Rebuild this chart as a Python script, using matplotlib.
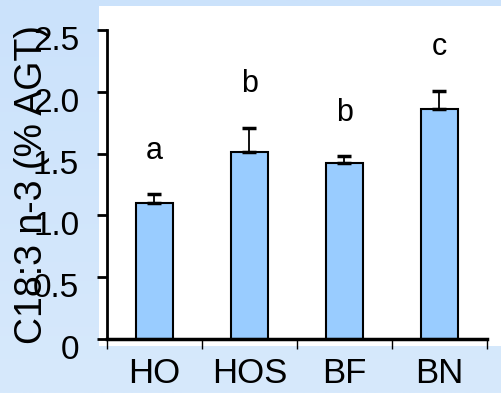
import numpy as np
import matplotlib
matplotlib.use("Agg")
import matplotlib.pyplot as plt
import matplotlib.transforms as mtransforms
from matplotlib.patches import Rectangle

plt.rcParams['font.family'] = ['Liberation Sans', 'DejaVu Sans']

# data
groups = ['HO', 'HOS', 'BF', 'BN']
means = [1.10, 1.51, 1.42, 1.86]
errors = [0.07, 0.20, 0.06, 0.15]
letters = ['a', 'b', 'b', 'c']
yticks = [0, 0.5, 1.0, 1.5, 2.0, 2.5]
ytick_labels = ['0', '0.5', '1.0', '1.5', '2.0', '2.5']

fig = plt.figure(figsize=(5.02, 3.93), dpi=100)
fig.patch.set_facecolor('#d0e5fc')

# soft vertical gradient behind everything
bg = fig.add_axes([0, 0, 1, 1], zorder=-10)
grad = np.linspace(0, 1, 256).reshape(-1, 1)
cmap = matplotlib.colors.LinearSegmentedColormap.from_list('bg', ['#cbe2fb', '#d7e9fc'])
bg.imshow(grad, aspect='auto', cmap=cmap, extent=[0, 1, 0, 1], origin='upper')
bg.axis('off')

# white panel
fig.patches.append(Rectangle((99 / 502, 1 - 346 / 393), 1 - 99 / 502, (346 - 6) / 393,
                             transform=fig.transFigure, facecolor='white',
                             edgecolor='none', zorder=-5))

ax = fig.add_axes([107 / 502, 1 - 339 / 393, 380 / 502, 309 / 393])
ax.patch.set_alpha(0)

x = np.arange(len(groups))
ax.bar(x, means, width=0.39, color='#99ccff', edgecolor='black', linewidth=1.5, zorder=2)
ax.errorbar(x, means, yerr=[np.zeros(len(errors)), errors], fmt='none',
            ecolor='black', elinewidth=1.3, capsize=5, capthick=2.5, zorder=3)

for xi, m, e, lab in zip(x, means, errors, letters):
    ax.text(xi, m + e + 0.35, lab, ha='center', va='center', fontsize=22)

ax.set_xlim(-0.5, len(groups) - 0.5)
ax.set_ylim(0, 2.5)

ax.set_yticks(yticks)
ax.set_yticklabels(ytick_labels, fontsize=24)
ax.tick_params(axis='y', direction='out', length=7, width=2, pad=13)
offset = mtransforms.ScaledTranslation(0, -8 / 100, fig.dpi_scale_trans)
for lab in ax.get_yticklabels():
    lab.set_transform(lab.get_transform() + offset)

ax.set_xticks(x)
ax.set_xticklabels(groups, fontsize=25)
ax.set_xticks(np.arange(len(groups) + 1) - 0.5, minor=True)
ax.tick_params(axis='x', which='major', length=0, pad=13)
ax.tick_params(axis='x', which='minor', direction='out', length=7, width=1)

for side in ['top', 'right']:
    ax.spines[side].set_visible(False)
ax.spines['left'].set_linewidth(2)
ax.spines['bottom'].set_linewidth(2.5)

ax.set_ylabel('C18:3 n-3 (% AGT)', fontsize=27)
ax.yaxis.label.set_verticalalignment('center')
ax.yaxis.set_label_coords(-0.197, 0.5)

fig.savefig('out.png', dpi=100, facecolor=fig.get_facecolor())
